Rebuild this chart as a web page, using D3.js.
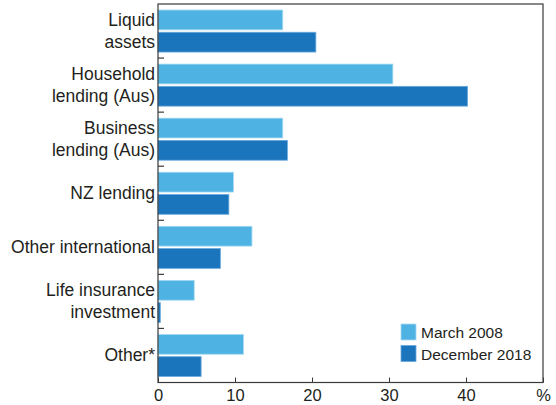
<!DOCTYPE html>
<html>
<head>
<meta charset="utf-8">
<script src="https://cdn.jsdelivr.net/npm/d3@7"></script>
<style>
  body { margin: 0; background: #fff; }
  text { font-family: "Liberation Sans", Arial, sans-serif; fill: #231f20; }
</style>
</head>
<body>
<div id="plot"></div>
<script>
// categories (two-line labels split on '|')
let categories = ['Liquid|assets', 'Household|lending (Aus)', 'Business|lending (Aus)', 'NZ lending',
    'Other international', 'Life insurance|investment', 'Other*'];
let seriesNames = ['March 2008', 'December 2018'];
let march2008 = [16.2, 30.5, 16.2, 9.8, 12.2, 4.7, 11.1];
let december2018 = [20.5, 40.2, 16.8, 9.2, 8.1, 0.3, 5.6];
let xTicks = [0, 10, 20, 30, 40];

let seriesColors = { 'March 2008': '#4eb3e2', 'December 2018': '#1b75bc' };
let strokeColors = { 'March 2008': '#a6d9f2', 'December 2018': '#6aa9dc' };

let width = 556, height = 405;
let plot = { left: 158, right: 543, top: 4, bottom: 382.5 };

let svg = d3.select('#plot')
    .append('svg')
        .attr('width', width)
        .attr('height', height);

let x = d3.scaleLinear()
    .domain([0, 50])
    .range([plot.left, plot.right]);

let y = d3.scaleBand()
    .domain(categories)
    .range([plot.top, plot.bottom]);

let ySub = d3.scaleBand()
    .domain(seriesNames)
    .range([0, y.step()])
    .paddingInner(0.11)
    .paddingOuter(0.27);

let rows = categories.map(function(c, i) {
    return { cat: c, values: [
        { name: 'March 2008', value: march2008[i] },
        { name: 'December 2018', value: december2018[i] }
    ] };
});

// bars
svg.selectAll('.row')
    .data(rows)
    .enter()
    .append('g')
        .attr('transform', d => 'translate(0,' + y(d.cat) + ')')
    .selectAll('rect')
    .data(d => d.values)
    .enter()
    .append('rect')
        .attr('x', x(0))
        .attr('y', d => ySub(d.name))
        .attr('width', d => x(d.value) - x(0))
        .attr('height', ySub.bandwidth())
        .attr('fill', d => seriesColors[d.name])
        .attr('stroke', d => strokeColors[d.name])
        .attr('stroke-width', 0.8);

// frame
svg.append('rect')
    .attr('x', plot.left)
    .attr('y', plot.top)
    .attr('width', plot.right - plot.left)
    .attr('height', plot.bottom - plot.top)
    .attr('fill', 'none')
    .attr('stroke', '#3a3a3a')
    .attr('stroke-width', 1.2);

// x axis: inside ticks + labels
let xAxis = d3.axisBottom(x)
    .tickValues(xTicks.concat([50]))
    .tickSizeInner(-5)
    .tickSizeOuter(0)
    .tickPadding(7)
    .tickFormat(d => d === 50 ? '%' : d);

let gx = svg.append('g')
    .attr('transform', 'translate(0,' + plot.bottom + ')')
    .call(xAxis);
gx.select('.domain').remove();
gx.selectAll('line').attr('stroke', '#3a3a3a');
gx.selectAll('text')
    .attr('font-size', 16.5)
    .style('font-family', '"Liberation Sans", Arial, sans-serif')
    .attr('fill', '#231f20');

// y axis: ticks between categories, pointing inward
let boundaries = categories.slice(1).map(c => y(c));
svg.selectAll('.ytick')
    .data(boundaries)
    .enter()
    .append('line')
        .attr('x1', plot.left)
        .attr('x2', plot.left + 6)
        .attr('y1', d => d)
        .attr('y2', d => d)
        .attr('stroke', '#3a3a3a')
        .attr('stroke-width', 1.2);

// category labels
let labels = svg.selectAll('.cat')
    .data(categories)
    .enter()
    .append('text')
        .attr('text-anchor', 'end')
        .attr('font-size', 17.5)
        .attr('x', 155)
        .attr('y', d => y(d) + y.bandwidth() / 2);

labels.each(function(d) {
    let parts = d.split('|');
    let t = d3.select(this);
    parts.forEach(function(p, i) {
        let dy = parts.length === 1 ? 6 : (i === 0 ? -5 : 17);
        t.append('tspan')
            .attr('x', 155)
            .attr('y', y(d) + y.bandwidth() / 2 + dy)
            .text(p);
    });
});

// legend
let legend = svg.append('g')
    .attr('transform', 'translate(401,324)');

legend.selectAll('rect')
    .data(seriesNames)
    .enter()
    .append('rect')
        .attr('x', 0)
        .attr('y', (d, i) => i * 21.5)
        .attr('width', 15)
        .attr('height', 16)
        .attr('fill', d => seriesColors[d])
        .attr('stroke', d => strokeColors[d])
        .attr('stroke-width', 0.8);

legend.selectAll('text')
    .data(seriesNames)
    .enter()
    .append('text')
        .attr('x', 20)
        .attr('y', (d, i) => i * 21.5 + 14)
        .attr('font-size', 15.5)
        .text(d => d);
</script>
</body>
</html>
